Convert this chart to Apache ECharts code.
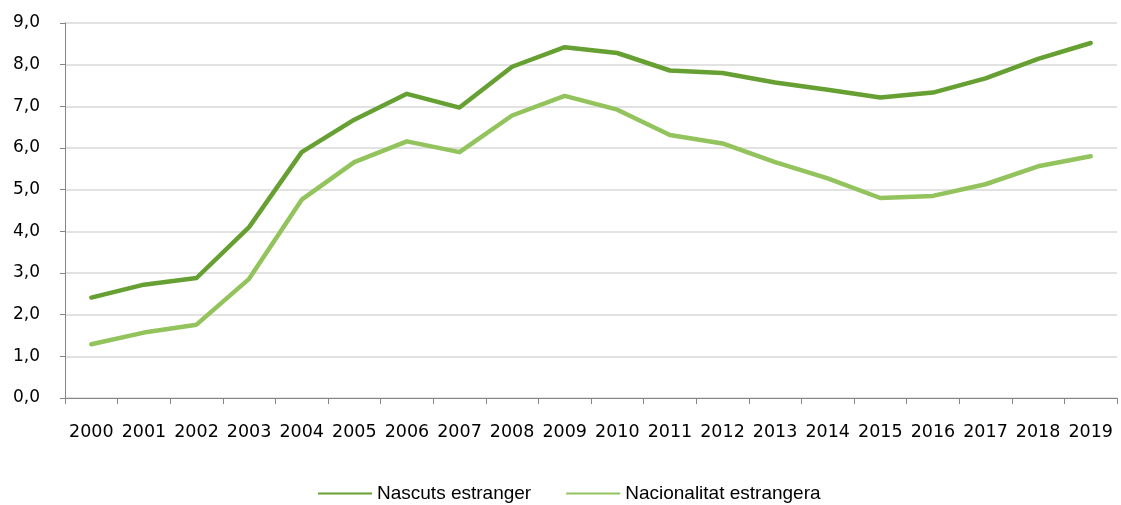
<!DOCTYPE html>
<html>
<head>
<meta charset="utf-8">
<script src="https://cdn.jsdelivr.net/npm/echarts@6/dist/echarts.min.js"></script>
<style>
  html, body { margin: 0; padding: 0; background: #fff; }
  #chart { width: 1121px; height: 505px; }
</style>
</head>
<body>
<div id="chart"></div>
<script>
const years = ['2000','2001','2002','2003','2004','2005','2006','2007','2008','2009',
               '2010','2011','2012','2013','2014','2015','2016','2017','2018','2019']
const nascuts = [2.41, 2.72, 2.88, 4.1, 5.9, 6.68, 7.3, 6.97, 7.95, 8.42,
                 8.28, 7.86, 7.8, 7.57, 7.4, 7.21, 7.33, 7.67, 8.14, 8.52]
const nacionalitat = [1.29, 1.57, 1.76, 2.86, 4.76, 5.66, 6.16, 5.9, 6.78, 7.25,
                      6.92, 6.31, 6.11, 5.66, 5.27, 4.8, 4.85, 5.13, 5.56, 5.8]
const seriesNames = ['Nascuts estranger', 'Nacionalitat estrangera']

let myChart = echarts.init(document.getElementById('chart'))
myChart.setOption({
  animation: false,
  grid: { left: 65, right: 4, top: 23, bottom: 107, containLabel: false },
  legend: {
    top: 484,
    left: 318,
    padding: 0,
    itemWidth: 54,
    itemHeight: 2,
    itemGap: 35,
    icon: 'rect',
    textStyle: { fontFamily: 'Liberation Sans', fontSize: 19, color: '#000' },
    data: seriesNames
  },
  xAxis: {
    type: 'category',
    boundaryGap: true,
    data: years,
    axisLine: { lineStyle: { color: '#868686', width: 1 } },
    axisTick: { show: true, interval: 0, length: 6, lineStyle: { color: '#868686' } },
    axisLabel: { interval: 0, margin: 25, fontFamily: 'DejaVu Sans', fontSize: 17.5, color: '#000' }
  },
  yAxis: {
    type: 'value',
    min: 0, max: 9, interval: 1,
    axisLine: { show: true, lineStyle: { color: '#868686' } },
    axisTick: { show: true, length: 5, lineStyle: { color: '#868686' } },
    splitLine: { lineStyle: { color: '#d9d9d9', width: 1.5 } },
    axisLabel: {
      margin: 25, fontFamily: 'DejaVu Sans', fontSize: 17, color: '#000',
      formatter: v => v.toFixed(1).replace('.', ',')
    }
  },
  series: [
    {
      name: seriesNames[0], type: 'line', data: nascuts,
      symbol: 'none', color: '#669f32',
      lineStyle: { width: 4.5, cap: 'round', join: 'round' }
    },
    {
      name: seriesNames[1], type: 'line', data: nacionalitat,
      symbol: 'none', color: '#93c35c',
      lineStyle: { width: 4.5, cap: 'round', join: 'round' }
    }
  ]
})
</script>
</body>
</html>
